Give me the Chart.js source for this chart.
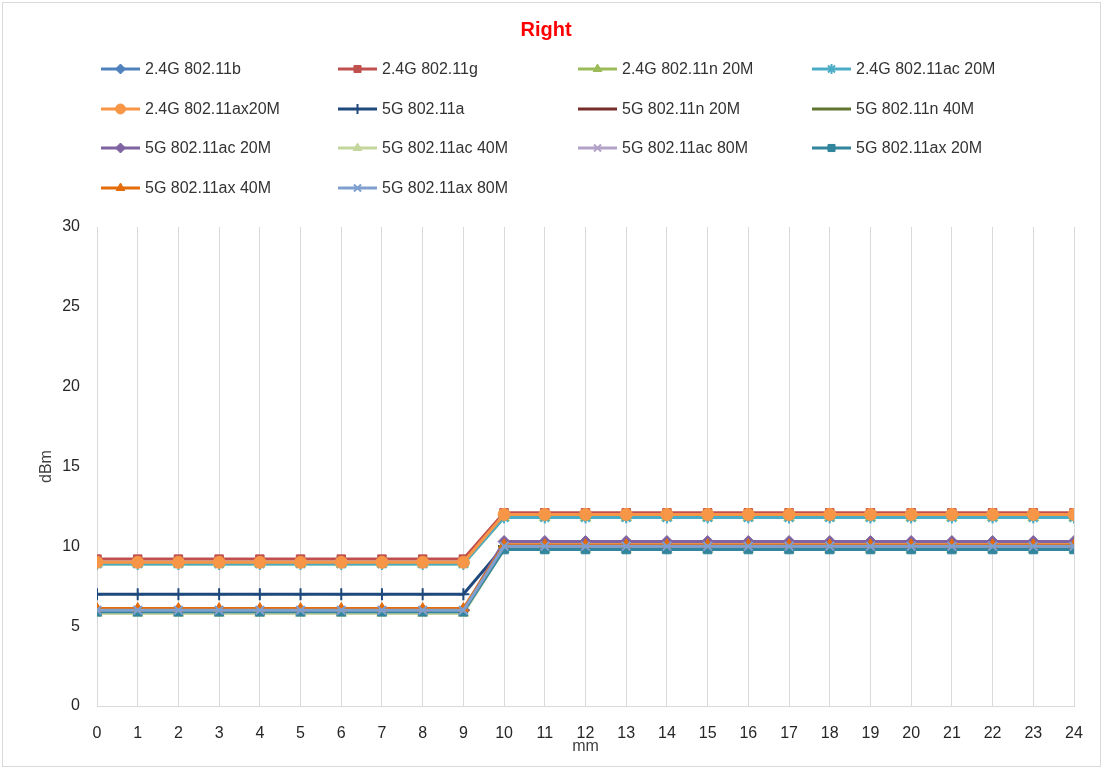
<!DOCTYPE html>
<html>
<head>
<meta charset="utf-8">
<script src="https://cdn.jsdelivr.net/npm/chart.js@4.4.1/dist/chart.umd.min.js"></script>
<style>
  html, body { margin: 0; padding: 0; background: #fff; }
  #wrap { position: relative; width: 1107px; height: 772px; }
  #frame { position: absolute; left: 2px; top: 2px; width: 1097px; height: 763px; border: 1px solid #d9d9d9; pointer-events: none; }
</style>
</head>
<body>
<div id="wrap">
  <canvas id="chart" width="1107" height="772"></canvas>
  <div id="frame"></div>
</div>
<script>
// x axis (mm)
const distances = [0,1,2,3,4,5,6,7,8,9,10,11,12,13,14,15,16,17,18,19,20,21,22,23,24];
const yTicks = [0, 5, 10, 15, 20, 25, 30];

// series values (dBm)
const g24_b    = [9.0,9.0,9.0,9.0,9.0,9.0,9.0,9.0,9.0,9.0,11.9,11.9,11.9,11.9,11.9,11.9,11.9,11.9,11.9,11.9,11.9,11.9,11.9,11.9,11.9];
const g24_g    = [9.2,9.2,9.2,9.2,9.2,9.2,9.2,9.2,9.2,9.2,12.1,12.1,12.1,12.1,12.1,12.1,12.1,12.1,12.1,12.1,12.1,12.1,12.1,12.1,12.1];
const g24_n20  = [8.9,8.9,8.9,8.9,8.9,8.9,8.9,8.9,8.9,8.9,11.8,11.8,11.8,11.8,11.8,11.8,11.8,11.8,11.8,11.8,11.8,11.8,11.8,11.8,11.8];
const g24_ac20 = [8.9,8.9,8.9,8.9,8.9,8.9,8.9,8.9,8.9,8.9,11.8,11.8,11.8,11.8,11.8,11.8,11.8,11.8,11.8,11.8,11.8,11.8,11.8,11.8,11.8];
const g24_ax20 = [9.0,9.0,9.0,9.0,9.0,9.0,9.0,9.0,9.0,9.0,12.0,12.0,12.0,12.0,12.0,12.0,12.0,12.0,12.0,12.0,12.0,12.0,12.0,12.0,12.0];
const g5_a     = [7.0,7.0,7.0,7.0,7.0,7.0,7.0,7.0,7.0,7.0,10.0,10.0,10.0,10.0,10.0,10.0,10.0,10.0,10.0,10.0,10.0,10.0,10.0,10.0,10.0];
const g5_n20   = [6.0,6.0,6.0,6.0,6.0,6.0,6.0,6.0,6.0,6.0,10.0,10.0,10.0,10.0,10.0,10.0,10.0,10.0,10.0,10.0,10.0,10.0,10.0,10.0,10.0];
const g5_n40   = [6.0,6.0,6.0,6.0,6.0,6.0,6.0,6.0,6.0,6.0,10.0,10.0,10.0,10.0,10.0,10.0,10.0,10.0,10.0,10.0,10.0,10.0,10.0,10.0,10.0];
const g5_ac20  = [6.0,6.0,6.0,6.0,6.0,6.0,6.0,6.0,6.0,6.0,10.3,10.3,10.3,10.3,10.3,10.3,10.3,10.3,10.3,10.3,10.3,10.3,10.3,10.3,10.3];
const g5_ac40  = [5.8,5.8,5.8,5.8,5.8,5.8,5.8,5.8,5.8,5.8,9.8,9.8,9.8,9.8,9.8,9.8,9.8,9.8,9.8,9.8,9.8,9.8,9.8,9.8,9.8];
const g5_ac80  = [5.9,5.9,5.9,5.9,5.9,5.9,5.9,5.9,5.9,5.9,10.0,10.0,10.0,10.0,10.0,10.0,10.0,10.0,10.0,10.0,10.0,10.0,10.0,10.0,10.0];
const g5_ax20  = [5.9,5.9,5.9,5.9,5.9,5.9,5.9,5.9,5.9,5.9,9.8,9.8,9.8,9.8,9.8,9.8,9.8,9.8,9.8,9.8,9.8,9.8,9.8,9.8,9.8];
const g5_ax40  = [6.1,6.1,6.1,6.1,6.1,6.1,6.1,6.1,6.1,6.1,10.1,10.1,10.1,10.1,10.1,10.1,10.1,10.1,10.1,10.1,10.1,10.1,10.1,10.1,10.1];
const g5_ax80  = [6.0,6.0,6.0,6.0,6.0,6.0,6.0,6.0,6.0,6.0,10.0,10.0,10.0,10.0,10.0,10.0,10.0,10.0,10.0,10.0,10.0,10.0,10.0,10.0,10.0];

const seriesNames = [
  '2.4G 802.11b', '2.4G 802.11g', '2.4G 802.11n 20M', '2.4G 802.11ac 20M',
  '2.4G 802.11ax20M', '5G 802.11a', '5G 802.11n 20M', '5G 802.11n 40M',
  '5G 802.11ac 20M', '5G 802.11ac 40M', '5G 802.11ac 80M', '5G 802.11ax 20M',
  '5G 802.11ax 40M', '5G 802.11ax 80M'
];
const seriesValues = [g24_b, g24_g, g24_n20, g24_ac20, g24_ax20, g5_a, g5_n20, g5_n40,
  g5_ac20, g5_ac40, g5_ac80, g5_ax20, g5_ax40, g5_ax80];

// styling (Excel-like)
const colors = ['#4f81bd', '#c0504d', '#9bbb59', '#4bacc6', '#f79646', '#1f497d', '#772c2a', '#5f7530',
  '#8064a2', '#c3d69b', '#b3a2c7', '#31859c', '#e46c0a', '#7f9fcf'];
const markers = ['rectRot', 'rect', 'triangle', 'star', 'circle', 'cross', 'line', 'line',
  'rectRot', 'triangle', 'crossRot', 'rect', 'triangle', 'crossRot'];

const thinMarker = (m) => ['star', 'cross', 'crossRot', 'line'].includes(m);

const datasets = seriesNames.map((name, i) => ({
  label: name,
  data: seriesValues[i].map((v, k) => ({ x: distances[k], y: v })),
  borderColor: colors[i],
  backgroundColor: colors[i],
  borderWidth: 3,
  pointStyle: markers[i],
  pointRadius: 6,
  pointBorderWidth: thinMarker(markers[i]) ? 2 : 1,
  pointBorderColor: colors[i],
  pointBackgroundColor: colors[i],
  tension: 0,
  fill: false,
  order: seriesNames.length - i // later series drawn on top, like Excel
}));

// legend in a 4 column grid, drawn in space left above the plot
const gridLegend = {
  id: 'gridLegend',
  afterDraw(chart) {
    const ctx = chart.ctx;
    const colX = [101, 338, 578, 812];
    const rowY = [69, 109, 148, 188];
    ctx.save();
    ctx.font = '16px "Liberation Sans", Arial, sans-serif';
    ctx.textBaseline = 'middle';
    chart.data.datasets.forEach((ds, i) => {
      const x = colX[i % 4], y = rowY[Math.floor(i / 4)];
      ctx.strokeStyle = ds.borderColor;
      ctx.fillStyle = ds.borderColor;
      ctx.lineWidth = 3;
      ctx.beginPath();
      ctx.moveTo(x, y);
      ctx.lineTo(x + 39, y);
      ctx.stroke();
      ctx.lineWidth = ds.pointBorderWidth;
      Chart.helpers.drawPoint(ctx, {
        pointStyle: ds.pointStyle, radius: 5, rotation: 0,
        borderWidth: ds.pointBorderWidth
      }, x + 19.5, y);
      ctx.fillStyle = '#333';
      ctx.fillText(ds.label, x + 44, y + 1);
    });
    ctx.restore();
  }
};

Chart.defaults.font.family = '"Liberation Sans", Arial, sans-serif';

new Chart(document.getElementById('chart'), {
  type: 'line',
  data: { datasets: datasets },
  options: {
    responsive: false,
    animation: false,
    layout: { padding: { left: 18, right: 33, top: 0, bottom: 16 } },
    plugins: {
      legend: { display: false },
      tooltip: { enabled: false },
      title: {
        display: true,
        text: 'Right',
        color: '#ff0000',
        font: { size: 20, weight: 'bold' },
        padding: { top: 18, bottom: 185 }
      }
    },
    scales: {
      x: {
        type: 'linear',
        min: 0, max: 24,
        afterBuildTicks: (s) => { s.ticks = distances.map(v => ({ value: v })); },
        afterFit: (s) => { s.height = 50; },
        grid: { color: '#d9d9d9', lineWidth: 1, drawTicks: false },
        border: { color: '#d9d9d9', width: 1 },
        ticks: { color: '#262626', font: { size: 16 }, padding: 18, maxRotation: 0, autoSkip: false },
        title: { display: true, text: 'mm', color: '#404040', font: { size: 16 }, padding: { top: 0, bottom: 0 } }
      },
      y: {
        min: 0, max: 30,
        afterBuildTicks: (s) => { s.ticks = yTicks.map(v => ({ value: v })); },
        afterFit: (s) => { s.width = 97 - 18; },
        grid: { display: false, drawTicks: false },
        border: { display: false },
        ticks: { color: '#262626', font: { size: 16 }, padding: 17 },
        title: { display: true, text: 'dBm', color: '#404040', font: { size: 16 }, padding: { top: 19, bottom: 0 } }
      }
    }
  },
  plugins: [gridLegend]
});
</script>
</body>
</html>
